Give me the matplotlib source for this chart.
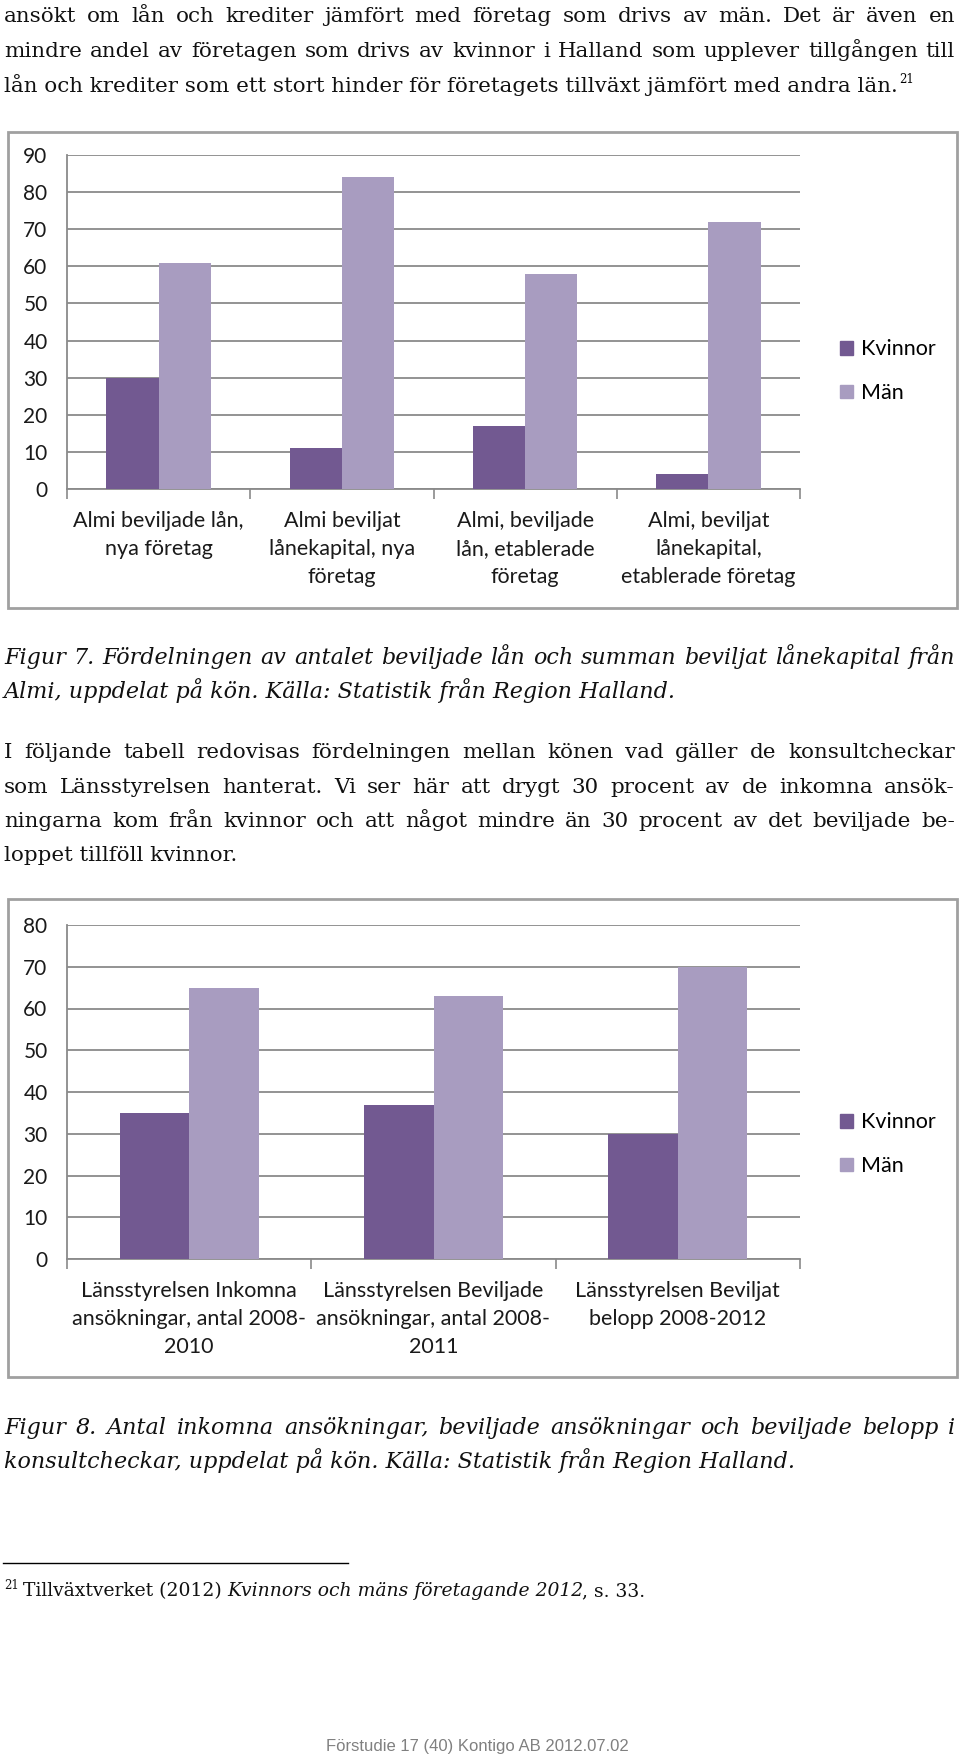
import matplotlib
matplotlib.use("Agg")
import matplotlib.pyplot as plt
from matplotlib.patches import Rectangle, Patch
import numpy as np

W, H = 960, 1759

# Figur 7 data
almi_cats = ["Almi beviljade lån,\nnya företag",
             "Almi beviljat\nlånekapital, nya\nföretag",
             "Almi, beviljade\nlån, etablerade\nföretag",
             "Almi, beviljat\nlånekapital,\netablerade företag"]
almi_kvinnor = [30, 11, 17, 4]
almi_man = [61, 84, 58, 72]

# Figur 8 data
lans_cats = ["Länsstyrelsen Inkomna\nansökningar, antal 2008-\n2010",
             "Länsstyrelsen Beviljade\nansökningar, antal 2008-\n2011",
             "Länsstyrelsen Beviljat\nbelopp 2008-2012"]
lans_kvinnor = [35, 37, 30]
lans_man = [65, 63, 70]

series_names = ["Kvinnor", "Män"]

KVINNOR_COLOR = "#725991"
MAN_COLOR = "#a89cc0"
GRID_COLOR = "#8a8a8a"
BOX_COLOR = "#a0a0a0"
SERIF = "DejaVu Serif"
SANS = "Lato"
BODY_SIZE = 15.4
CAPTION_SIZE = 16

fig = plt.figure(figsize=(W / 100, H / 100), dpi=100)
renderer = fig.canvas.get_renderer()


def fx(x):
    return x / W


def fy(y):
    return 1 - y / H


def text_width(s, **kw):
    t = fig.text(0, 0, s, **kw)
    w = t.get_window_extent(renderer).width
    t.remove()
    return w


def put_line(s, y, justify=True, x0=4, x1=955, **kw):
    # draw one line of body text, optionally stretched to full width
    kw.setdefault("family", SERIF)
    kw.setdefault("fontsize", BODY_SIZE)
    kw.setdefault("color", "#111111")
    words = s.split()
    if not justify or len(words) < 2:
        fig.text(fx(x0), fy(y), s, va="baseline", ha="left", **kw)
        return x0 + text_width(s, **kw)
    widths = [text_width(w, **kw) for w in words]
    gap = (x1 - x0 - sum(widths)) / (len(words) - 1)
    x = x0
    for w, wd in zip(words, widths):
        fig.text(fx(x), fy(y), w, va="baseline", ha="left", **kw)
        x += wd + gap
    return x1


def put_runs(runs, y, x0=4):
    # runs: (text, style, size, raise, extra gap after)
    x = x0
    for s, style, size, dy, extra in runs:
        kw = dict(family=SERIF, fontsize=size, style=style, color="#111111")
        fig.text(fx(x), fy(y - dy), s, va="baseline", ha="left", **kw)
        x += text_width(s, **kw) + extra
    return x


def bar_chart(rect, cats, kvinnor, man, ymax, box, legend_y):
    left, top, right, bottom = rect
    ax = fig.add_axes([fx(left), fy(bottom), (right - left) / W, (bottom - top) / H])
    n = len(cats)
    x = np.arange(n)
    bw = 0.285
    ax.bar(x - bw / 2, kvinnor, bw, color=KVINNOR_COLOR, zorder=3)
    ax.bar(x + bw / 2, man, bw, color=MAN_COLOR, zorder=3)
    ax.set_xlim(-0.5, n - 0.5)
    ax.set_ylim(0, ymax)
    ax.set_yticks(range(0, ymax + 1, 10))
    ax.yaxis.grid(True, color=GRID_COLOR, lw=1.3)
    ax.set_axisbelow(True)
    for sp in ["top", "right"]:
        ax.spines[sp].set_visible(False)
    for sp in ["left", "bottom"]:
        ax.spines[sp].set_color(GRID_COLOR)
        ax.spines[sp].set_linewidth(1.3)
    ax.set_xticks(x)
    ax.set_xticklabels(cats, family=SANS, fontsize=15.5, linespacing=1.5, color="#1a1a1a")
    ax.set_xticks(np.arange(-0.5, n, 1), minor=True)
    ax.tick_params(axis="x", which="major", length=0, pad=16)
    ax.tick_params(axis="x", which="minor", length=7, color=GRID_COLOR, width=1.2)
    ax.tick_params(axis="y", length=0, pad=14, labelsize=15, labelcolor="#1a1a1a")
    for lab in ax.get_yticklabels():
        lab.set_family(SANS)
    bx0, by0, bx1, by1 = box
    fig.patches.append(Rectangle((fx(bx0), fy(by1)), (bx1 - bx0) / W, (by1 - by0) / H,
                                 transform=fig.transFigure, fill=False,
                                 edgecolor=BOX_COLOR, lw=2))
    handles = [Patch(color=KVINNOR_COLOR, label=series_names[0]),
               Patch(color=MAN_COLOR, label=series_names[1])]
    fig.legend(handles=handles, loc="upper left", bbox_to_anchor=(fx(821), fy(legend_y)),
               frameon=False, handlelength=0.6, handleheight=0.6, handletextpad=0.35,
               labelspacing=1.1, prop={"family": SANS, "size": 15.5})
    return ax


# top paragraph
put_line("ansökt om lån och krediter jämfört med företag som drivs av män. Det är även en", 22)
put_line("mindre andel av företagen som drivs av kvinnor i Halland som upplever tillgången till", 57)
end = put_line("lån och krediter som ett stort hinder för företagets tillväxt jämfört med andra län.", 92,
               justify=False)
fig.text(fx(end + 1), fy(83), "21", family=SERIF, fontsize=8.5, va="baseline", ha="left")

# Figur 7
bar_chart((67, 155, 800, 489), almi_cats, almi_kvinnor, almi_man, 90,
          (8, 132, 957, 608), 320)
put_line("Figur 7. Fördelningen av antalet beviljade lån och summan beviljat lånekapital från",
         664, style="italic", fontsize=CAPTION_SIZE)
put_line("Almi, uppdelat på kön. Källa: Statistik från Region Halland.", 698,
         justify=False, style="italic", fontsize=CAPTION_SIZE)

put_line("I följande tabell redovisas fördelningen mellan könen vad gäller de konsultcheckar", 758)
put_line("som Länsstyrelsen hanterat. Vi ser här att drygt 30 procent av de inkomna ansök-", 793)
put_line("ningarna kom från kvinnor och att något mindre än 30 procent av det beviljade be-", 827)
put_line("loppet tillföll kvinnor.", 861, justify=False)

# Figur 8
bar_chart((67, 925, 800, 1259), lans_cats, lans_kvinnor, lans_man, 80,
          (8, 899, 957, 1377), 1093)
put_line("Figur 8. Antal inkomna ansökningar, beviljade ansökningar och beviljade belopp i",
         1434, style="italic", fontsize=CAPTION_SIZE)
put_line("konsultcheckar, uppdelat på kön. Källa: Statistik från Region Halland.", 1468,
         justify=False, style="italic", fontsize=CAPTION_SIZE)

# footnote
fig.add_artist(plt.Line2D([fx(3), fx(348)], [fy(1563), fy(1563)], color="black", lw=1,
                          transform=fig.transFigure))
put_runs([("21", "normal", 8.5, 7, 4), ("Tillväxtverket (2012)", "normal", 13.5, 0, 6),
          ("Kvinnors och mäns företagande 2012", "italic", 13.5, 0, -2),
          (", s. 33.", "normal", 13.5, 0, 0)], 1596)

fig.text(fx(477), fy(1747), "Förstudie 17 (40) Kontigo AB 2012.07.02", family="Liberation Sans",
         fontsize=12, color="#808080", ha="center", va="center")

fig.savefig("out.png", dpi=100)
